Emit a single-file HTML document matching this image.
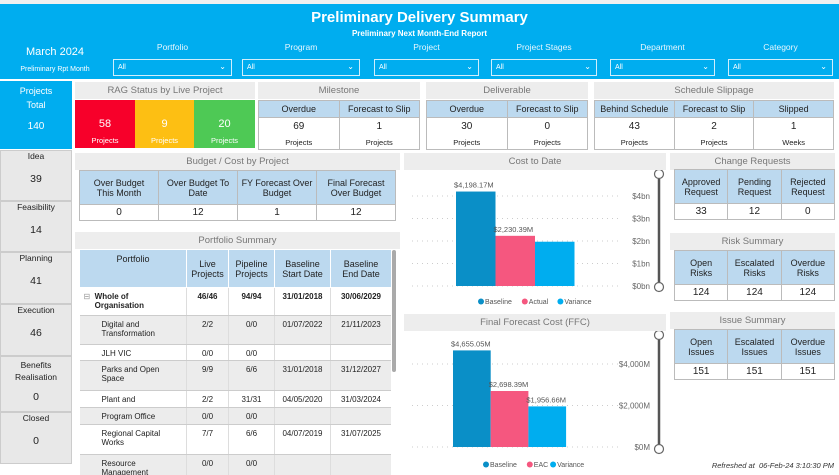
<!DOCTYPE html>
<html><head><meta charset="utf-8">
<style>
*{box-sizing:border-box;margin:0;padding:0}
body{width:839px;height:475px;overflow:hidden;background:#fff;font-family:"Liberation Sans",sans-serif;position:relative;color:#222}
.a{position:absolute}
.hdr{background:#00adef}
.ph{position:absolute;background:#ededed;color:#777;font-size:9.5px;text-align:center;line-height:17px}
.dd{position:absolute;top:59px;height:17px;border:1px solid #d0eefc;color:#fff;font-size:7px;line-height:15px;padding-left:4px}
.dd span{position:absolute;right:5px;top:-1px;font-size:8px}
.fl{position:absolute;top:42px;color:#e8f6fd;font-size:8.5px;text-align:center}
table{border-collapse:collapse;position:absolute;font-size:9px;text-align:center;table-layout:fixed}
td,th{border:1px solid #bbb;font-weight:normal}
th{background:#bcd9ef;color:#222}
.st{position:absolute;left:0;width:72px;background:#e8e8e8;border:1px solid #ccc;font-size:8.5px;text-align:center;color:#222}
.st b{display:block;font-weight:normal;font-size:10.5px;margin-top:12px}
.rag{position:absolute;top:100px;height:48px;color:#fff;text-align:center;font-size:11px}
.rag small{display:block;font-size:7.5px;margin-top:6px}
.ps td{border:none;border-bottom:1px solid #ccc;border-right:1px solid #ddd;vertical-align:top;padding-top:4px;font-size:8px}
.ps tr.g td{background:#ececec}
.ps td:first-child{text-align:left;padding-left:22px}
.sm{font-size:7.5px;margin-top:6px}
</style></head><body>
<div class="a" style="left:0;top:0;width:839px;height:4px;background:#f0f0f0"></div>
<div class="a hdr" style="left:0;top:4px;width:839px;height:75px"></div>
<div class="a" style="left:0;top:9px;width:839px;text-align:center;color:#fff;font-weight:bold;font-size:15px">Preliminary Delivery Summary</div>
<div class="a" style="left:0;top:29px;width:839px;text-align:center;color:#fff;font-weight:bold;font-size:8px">Preliminary Next Month-End Report</div>
<div class="a" style="left:0;top:46px;width:110px;text-align:center;color:#fff;font-size:11px">March 2024</div>
<div class="a" style="left:0;top:66px;width:110px;text-align:center;color:#fff;font-size:7px">Preliminary Rpt Month</div>

<div class="fl" style="left:113px;width:119px">Portfolio</div>
<div class="dd" style="left:113px;width:119px">All<span>&#8964;</span></div>
<div class="fl" style="left:242px;width:118px">Program</div>
<div class="dd" style="left:242px;width:118px">All<span>&#8964;</span></div>
<div class="fl" style="left:374px;width:105px">Project</div>
<div class="dd" style="left:374px;width:105px">All<span>&#8964;</span></div>
<div class="fl" style="left:491px;width:106px">Project Stages</div>
<div class="dd" style="left:491px;width:106px">All<span>&#8964;</span></div>
<div class="fl" style="left:610px;width:105px">Department</div>
<div class="dd" style="left:610px;width:105px">All<span>&#8964;</span></div>
<div class="fl" style="left:728px;width:105px">Category</div>
<div class="dd" style="left:728px;width:105px">All<span>&#8964;</span></div>

<div class="a" style="left:0;top:81px;width:72px;height:68px;background:#00adef;color:#fff;text-align:center;font-size:9px;line-height:14px;padding-top:3px">Projects<br>Total<div style="margin-top:8px;font-size:10px">140</div></div>
<div class="st" style="top:150px;height:51px">Idea<b>39</b></div>
<div class="st" style="top:201px;height:51px">Feasibility<b>14</b></div>
<div class="st" style="top:252px;height:52px">Planning<b>41</b></div>
<div class="st" style="top:304px;height:52px">Execution<b>46</b></div>
<div class="st" style="top:356px;height:56px;line-height:12px;padding-top:2px">Benefits<br>Realisation<b style="margin-top:8px">0</b></div>
<div class="st" style="top:412px;height:52px">Closed<b>0</b></div>

<div class="ph" style="left:75px;top:82px;width:180px">RAG Status by Live Project</div>
<div class="rag" style="left:75px;width:60px;background:#f7002a;padding-top:18px">58<small>Projects</small></div>
<div class="rag" style="left:135px;width:59px;background:#fdbf13;padding-top:18px">9<small>Projects</small></div>
<div class="rag" style="left:194px;width:61px;background:#4ec955;padding-top:18px">20<small>Projects</small></div>

<div class="ph" style="left:258px;top:82px;width:162px">Milestone</div>
<table style="left:258px;top:100px;width:162px">
<tr style="height:17px"><th>Overdue</th><th>Forecast to Slip</th></tr>
<tr style="font-size:10px"><td style="height:32px">69<div class="sm">Projects</div></td><td>1<div class="sm">Projects</div></td></tr></table>

<div class="ph" style="left:426px;top:82px;width:162px">Deliverable</div>
<table style="left:426px;top:100px;width:162px">
<tr style="height:17px"><th>Overdue</th><th>Forecast to Slip</th></tr>
<tr style="font-size:10px"><td style="height:32px">30<div class="sm">Projects</div></td><td>0<div class="sm">Projects</div></td></tr></table>

<div class="ph" style="left:594px;top:82px;width:240px">Schedule Slippage</div>
<table style="left:594px;top:100px;width:240px">
<tr style="height:17px"><th>Behind Schedule</th><th>Forecast to Slip</th><th>Slipped</th></tr>
<tr style="font-size:10px"><td style="height:32px">43<div class="sm">Projects</div></td><td>2<div class="sm">Projects</div></td><td>1<div class="sm">Weeks</div></td></tr></table>

<div class="ph" style="left:75px;top:153px;width:325px">Budget / Cost by Project</div>
<table style="left:79px;top:170px;width:317px">
<tr style="height:34px"><th>Over Budget<br>This Month</th><th>Over Budget To<br>Date</th><th>FY Forecast Over<br>Budget</th><th>Final Forecast<br>Over Budget</th></tr>
<tr style="height:16px;font-size:10px"><td>0</td><td>12</td><td>1</td><td>12</td></tr></table>

<div class="ph" style="left:75px;top:232px;width:325px">Portfolio Summary</div>
<div class="a" style="left:79px;top:249px;width:312px;height:226px;overflow:hidden">
<table class="ps" style="left:0;top:0;width:312px">
<colgroup><col style="width:107px"><col style="width:42px"><col style="width:46px"><col style="width:56px"><col style="width:61px"></colgroup>
<tr style="height:38px"><th style="vertical-align:top;padding-top:4px;border-color:#fff">Portfolio</th><th style="border-color:#fff">Live<br>Projects</th><th style="border-color:#fff">Pipeline<br>Projects</th><th style="border-color:#fff">Baseline<br>Start Date</th><th style="border-color:#fff">Baseline<br>End Date</th></tr>
<tr style="height:28px"><td style="padding-left:4px;font-weight:bold"><span style="color:#999;font-weight:normal">&#8863;</span>&nbsp; Whole of<br>&nbsp;&nbsp;&nbsp;&nbsp; Organisation</td><td style="font-weight:bold">46/46</td><td style="font-weight:bold">94/94</td><td style="font-weight:bold">31/01/2018</td><td style="font-weight:bold">30/06/2029</td></tr>
<tr class="g" style="height:29px"><td>Digital and<br>Transformation</td><td>2/2</td><td>0/0</td><td>01/07/2022</td><td>21/11/2023</td></tr>
<tr style="height:16px"><td>JLH VIC</td><td>0/0</td><td>0/0</td><td></td><td></td></tr>
<tr class="g" style="height:30px"><td>Parks and Open<br>Space</td><td>9/9</td><td>6/6</td><td>31/01/2018</td><td>31/12/2027</td></tr>
<tr style="height:17px"><td>Plant and</td><td>2/2</td><td>31/31</td><td>04/05/2020</td><td>31/03/2024</td></tr>
<tr class="g" style="height:17px"><td>Program Office</td><td>0/0</td><td>0/0</td><td></td><td></td></tr>
<tr style="height:30px"><td>Regional Capital<br>Works</td><td>7/7</td><td>6/6</td><td>04/07/2019</td><td>31/07/2025</td></tr>
<tr class="g" style="height:30px"><td>Resource<br>Management</td><td>0/0</td><td>0/0</td><td></td><td></td></tr>
</table></div>
<div class="a" style="left:392px;top:250px;width:4px;height:122px;background:#aaa;border-radius:2px"></div>

<div class="ph" style="left:404px;top:153px;width:262px">Cost to Date</div>
<svg class="a" id="c1" style="left:404px;top:170px" width="265" height="142"></svg>
<div class="ph" style="left:404px;top:314px;width:262px">Final Forecast Cost (FFC)</div>
<svg class="a" id="c2" style="left:404px;top:331px" width="265" height="144"></svg>

<div class="ph" style="left:670px;top:153px;width:165px">Change Requests</div>
<table style="left:674px;top:169px;width:161px">
<tr style="height:34px"><th>Approved<br>Request</th><th>Pending<br>Request</th><th>Rejected<br>Request</th></tr>
<tr style="height:16px;font-size:10px"><td>33</td><td>12</td><td>0</td></tr></table>
<div class="ph" style="left:670px;top:233px;width:165px">Risk Summary</div>
<table style="left:674px;top:250px;width:161px">
<tr style="height:34px"><th>Open<br>Risks</th><th>Escalated<br>Risks</th><th>Overdue<br>Risks</th></tr>
<tr style="height:16px;font-size:10px"><td>124</td><td>124</td><td>124</td></tr></table>
<div class="ph" style="left:670px;top:312px;width:165px">Issue Summary</div>
<table style="left:674px;top:329px;width:161px">
<tr style="height:34px"><th>Open<br>Issues</th><th>Escalated<br>Issues</th><th>Overdue<br>Issues</th></tr>
<tr style="height:16px;font-size:10px"><td>151</td><td>151</td><td>151</td></tr></table>
<div class="a" style="left:700px;top:461px;width:134px;text-align:right;font-style:italic;font-size:7.5px;color:#333">Refreshed at&nbsp; 06-Feb-24 3:10:30 PM</div>

<script>
const ctdCategories=["Baseline","Actual","Variance"];
const ctdValues=[4198.17,2230.39,1967.78];
const ctdLabels=["$4,198.17M","$2,230.39M",""];
const ctdTicks=[0,1000,2000,3000,4000];
const ctdTickLabels=["$0bn","$1bn","$2bn","$3bn","$4bn"];
const ffcCategories=["Baseline","EAC","Variance"];
const ffcValues=[4655.05,2698.39,1956.66];
const ffcLabels=["$4,655.05M","$2,698.39M","$1,956.66M"];
const ffcTicks=[0,2000,4000];
const ffcTickLabels=["$0M","$2,000M","$4,000M"];
const colors=["#0a8fc7","#f5577f","#00adef"];
const NS="http://www.w3.org/2000/svg";
function mk(svg,tag,attrs,txt){const e=document.createElementNS(NS,tag);for(const k in attrs)e.setAttribute(k,attrs[k]);if(txt!==undefined)e.textContent=txt;svg.appendChild(e);return e;}
function draw(id,cats,vals,labels,ticks,tlabels,y0,pxPer,x0,bw,legY,legX,sliderTop,sliderBot){
  const svg=document.getElementById(id);
  const y=v=>y0-v*pxPer;
  ticks.forEach((t,i)=>{
    const g=mk(svg,'line',{x1:8,x2:218,y1:y(t),y2:y(t),stroke:'#ccc','stroke-dasharray':'1,4'});
    
    
    const l=mk(svg,'text',{x:246,y:y(t)+3,'text-anchor':'end','font-size':8,fill:'#666'},tlabels[i]);
    
    
  });
  vals.forEach((v,i)=>{
    const r=mk(svg,'rect',{x:x0+i*bw,y:y(v),width:bw,height:v*pxPer,fill:colors[i]});
    
    
    if(labels[i]){const t=mk(svg,'text',{x:x0+i*bw-2,y:y(v)-4,'font-size':7.5,fill:'#555'},labels[i]);
      
      }
  });
  let lx=legX;
  cats.forEach((c,i)=>{
    const d=mk(svg,'circle',{cx:lx+3,cy:legY-2.5,r:3,fill:colors[i]});
    
    
    const t=mk(svg,'text',{x:lx+7,y:legY,'font-size':7,fill:'#555'},c);
    
    
    lx+=7+c.length*4.1+4;
  });
  const s=mk(svg,'line',{x1:255,x2:255,y1:sliderTop,y2:sliderBot,stroke:'#555','stroke-width':2.5});
  
  
  [sliderTop,sliderBot].forEach(yy=>{const h=mk(svg,'circle',{cx:255,cy:yy,r:4.5,fill:'#fff',stroke:'#666','stroke-width':1.2});
    
    });
}
draw('c1',ctdCategories,ctdValues,ctdLabels,ctdTicks,ctdTickLabels,116,0.0225,52,39.5,134,74,4,117);
draw('c2',ffcCategories,ffcValues,ffcLabels,ffcTicks,ffcTickLabels,116,0.02075,49,37.7,136,79,4,118);
</script>
</body></html>
